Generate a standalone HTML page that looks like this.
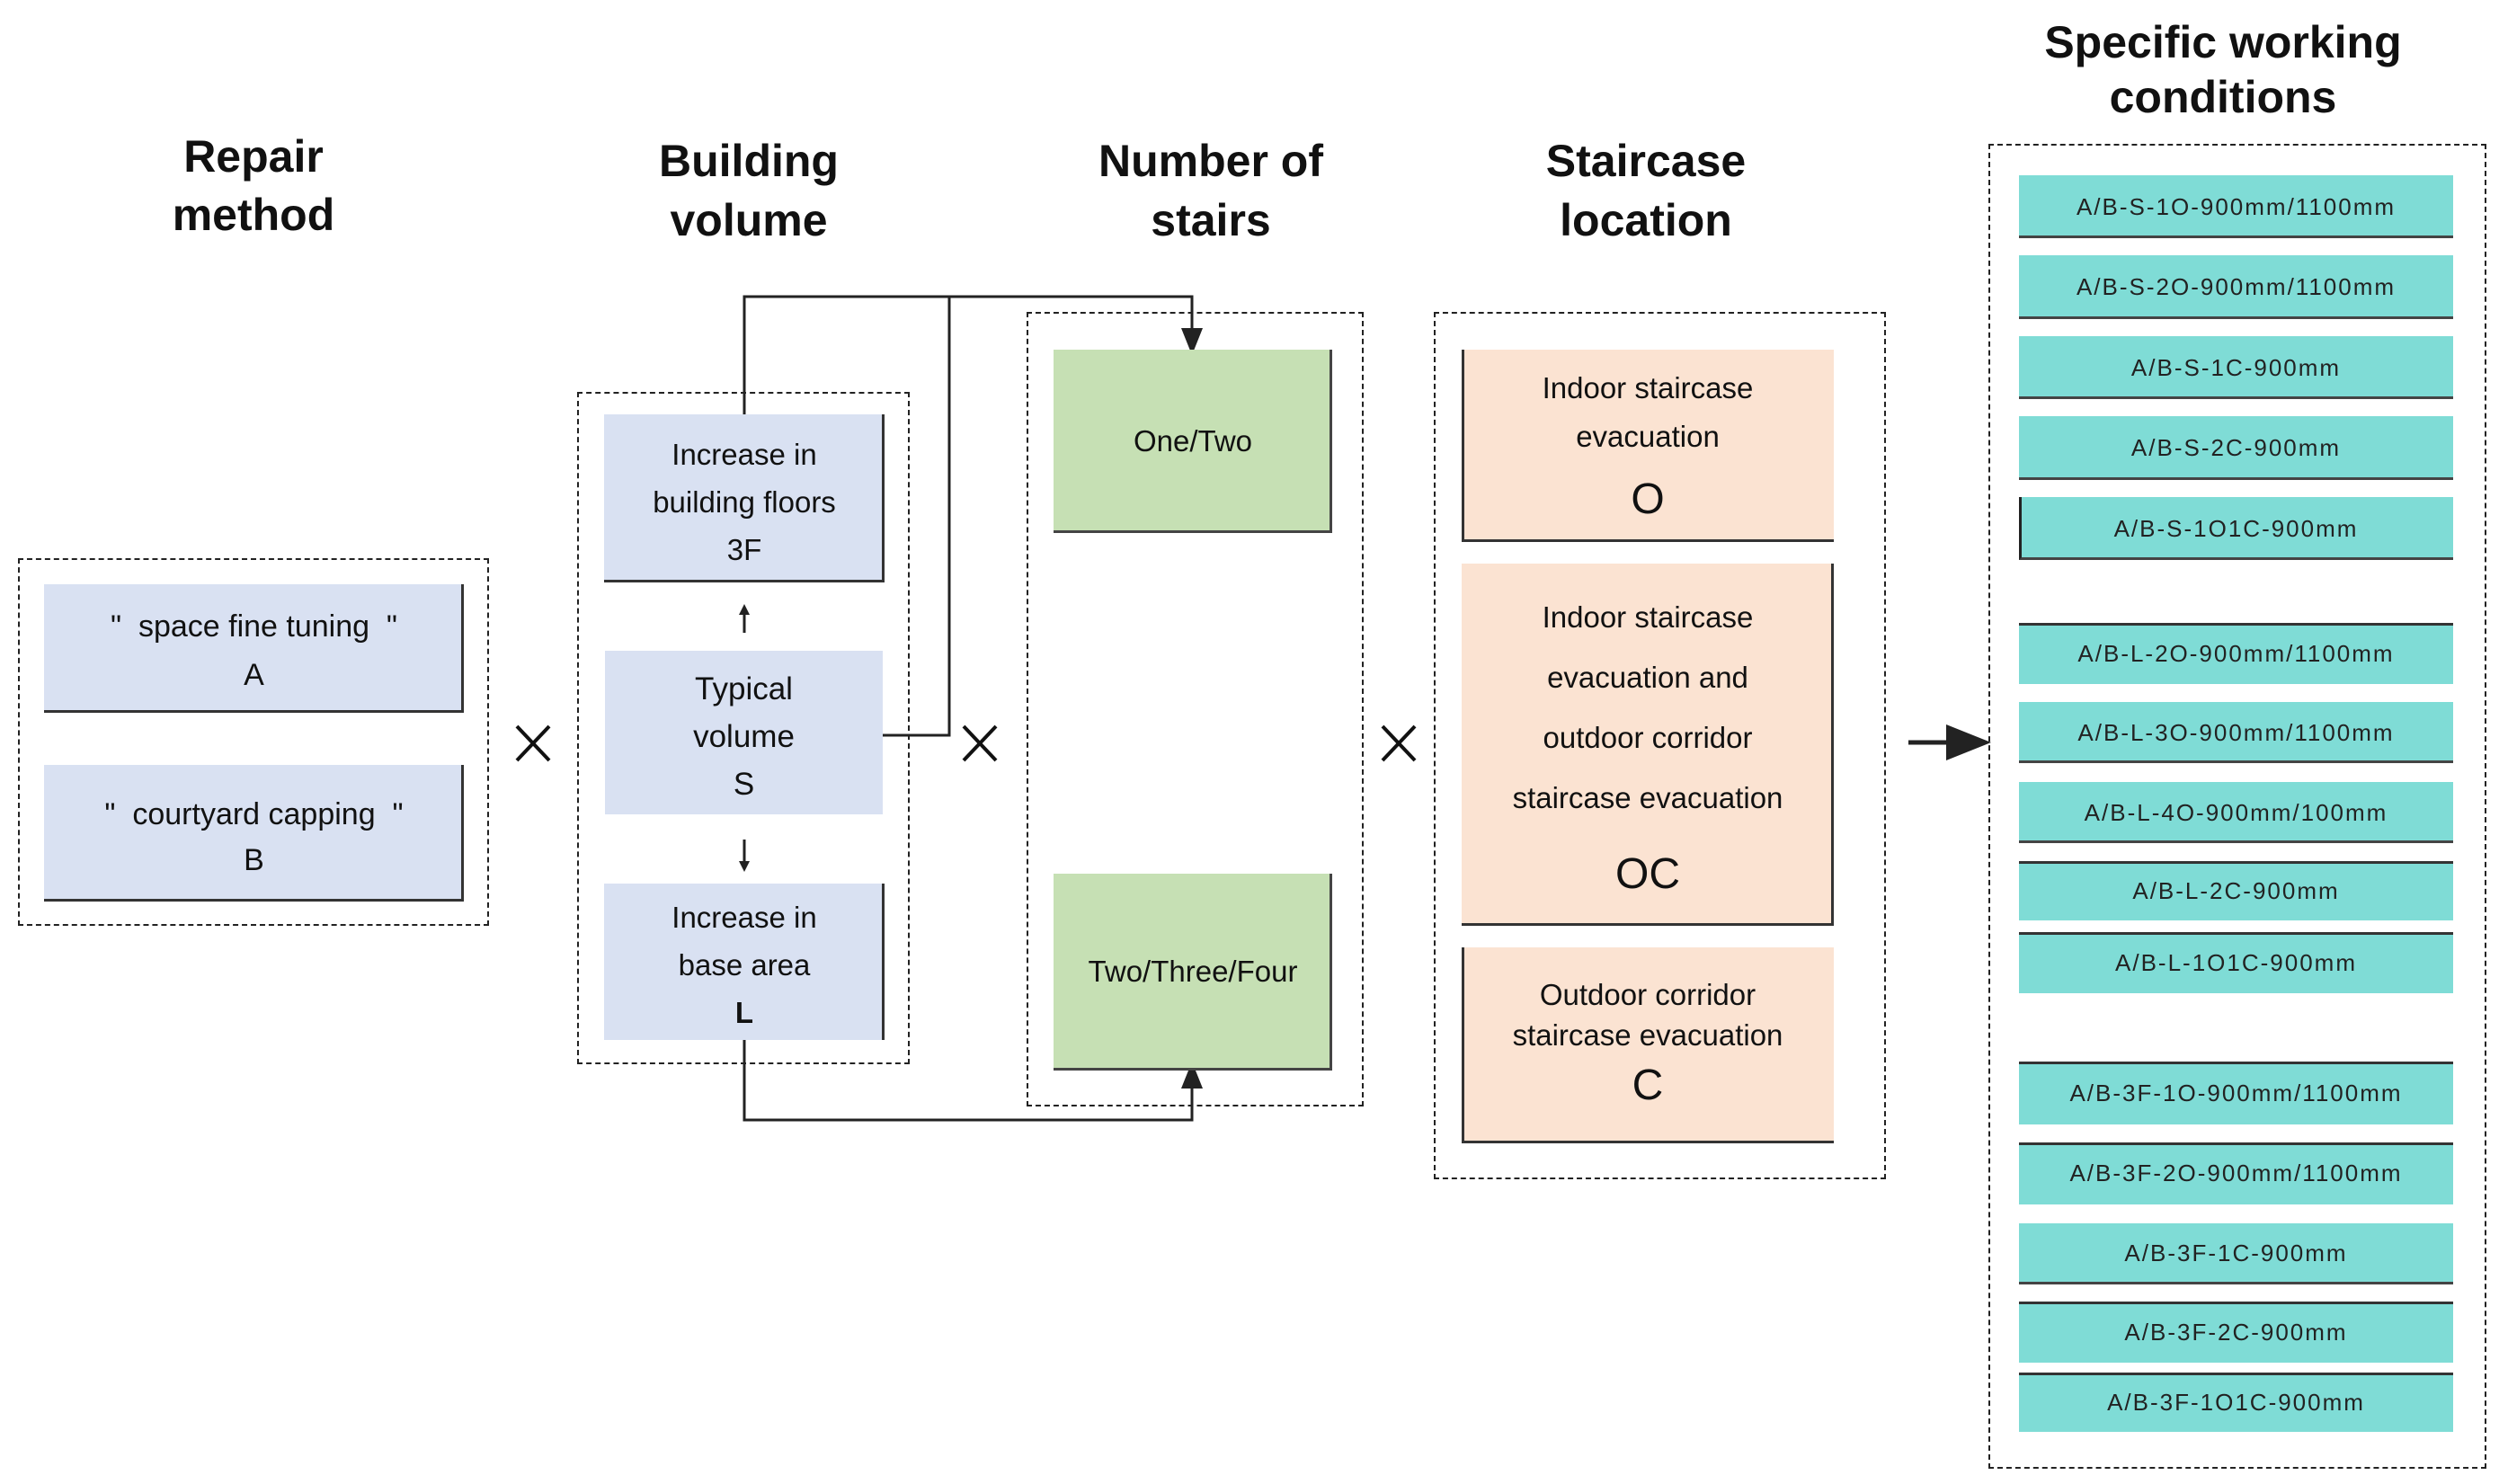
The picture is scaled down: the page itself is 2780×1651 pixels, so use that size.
<!DOCTYPE html>
<html><head><meta charset="utf-8"><style>
body{margin:0;background:#fff;}
#c{position:relative;width:2780px;height:1651px;overflow:hidden;font-family:"Liberation Sans",Arial,sans-serif;color:#111;}
.b{position:absolute;box-sizing:border-box;}
.t{position:absolute;text-align:center;white-space:nowrap;}
.dash{position:absolute;box-sizing:border-box;border:2px dashed #222;}
.blue{background:#d9e1f2;border-right:3px solid #333;border-bottom:3px solid #333;}
.green{background:#c6e0b4;border-right:3px solid #444;border-bottom:3px solid #444;}
.peach{background:#fbe3d2;border-left:3px solid #333;border-bottom:3px solid #333;}
.teal{background:#7fdcd6;border-bottom:3px solid #444;}
.ti{font-weight:bold;font-size:50px;line-height:60px;}
.tt{font-size:26px;line-height:32px;letter-spacing:2px;color:#222;}
</style></head><body><div id="c">
<!-- titles -->
<div class="t ti" style="left:82px;width:400px;top:144px">Repair</div>
<div class="t ti" style="left:82px;width:400px;top:209px">method</div>
<div class="t ti" style="left:633px;width:400px;top:149px">Building</div>
<div class="t ti" style="left:633px;width:400px;top:215px">volume</div>
<div class="t ti" style="left:1147px;width:400px;top:149px">Number of</div>
<div class="t ti" style="left:1147px;width:400px;top:215px">stairs</div>
<div class="t ti" style="left:1631px;width:400px;top:149px">Staircase</div>
<div class="t ti" style="left:1631px;width:400px;top:215px">location</div>
<div class="t ti" style="left:2223px;width:500px;top:17px">Specific working</div>
<div class="t ti" style="left:2223px;width:500px;top:78px">conditions</div>

<!-- lines -->
<svg class="b" style="left:0;top:0" width="2780" height="1651">
<defs><marker id="ar" markerWidth="10" markerHeight="10" refX="5" refY="5" orient="auto"><path d="M0,1 L10,5 L0,9 z" fill="#222"/></marker></defs>
<g stroke="#222" stroke-width="3" fill="none">
<polyline points="828,461 828,330 1326,330 1326,380" marker-end="url(#ar)"/>
<polyline points="982,818 1056,818 1056,330"/>
<polyline points="828,1157 828,1246 1326,1246 1326,1196" marker-end="url(#ar)"/>
<line x1="828" y1="704" x2="828" y2="680"/>
<line x1="828" y1="934" x2="828" y2="962"/>
<line x1="2123" y1="826" x2="2190" y2="826" stroke-width="5" marker-end="url(#ar)"/>
</g>
<g stroke="#111" stroke-width="4">
<line x1="575" y1="808" x2="611" y2="846"/><line x1="611" y1="808" x2="575" y2="846"/>
<line x1="1072" y1="808" x2="1108" y2="846"/><line x1="1108" y1="808" x2="1072" y2="846"/>
<line x1="1538" y1="808" x2="1574" y2="846"/><line x1="1574" y1="808" x2="1538" y2="846"/>
</g>
<path d="M822,684 L828,672 L834,684 z M822,958 L828,970 L834,958 z" fill="#222"/>
</svg>

<!-- repair -->
<div class="dash" style="left:20px;top:621px;width:524px;height:409px"></div>
<div class="b blue" style="left:49px;top:650px;width:467px;height:143px"></div>
<div class="t" style="left:49px;width:467px;top:677px;font-size:34px;line-height:40px">"&nbsp; space fine tuning &nbsp;"</div>
<div class="t" style="left:49px;width:467px;top:731px;font-size:34px;line-height:40px">A</div>
<div class="b blue" style="left:49px;top:851px;width:467px;height:152px"></div>
<div class="t" style="left:49px;width:467px;top:886px;font-size:34px;line-height:40px">"&nbsp; courtyard capping &nbsp;"</div>
<div class="t" style="left:49px;width:467px;top:937px;font-size:34px;line-height:40px">B</div>

<!-- building volume -->
<div class="dash" style="left:642px;top:436px;width:370px;height:748px"></div>
<div class="b blue" style="left:672px;top:461px;width:312px;height:187px"></div>
<div class="t" style="left:672px;width:312px;top:486px;font-size:33px;line-height:40px">Increase in</div>
<div class="t" style="left:672px;width:312px;top:539px;font-size:33px;line-height:40px">building floors</div>
<div class="t" style="left:672px;width:312px;top:592px;font-size:33px;line-height:40px">3F</div>
<div class="b blue" style="left:673px;top:724px;width:309px;height:182px;border:none"></div>
<div class="t" style="left:673px;width:309px;top:747px;font-size:35px;line-height:40px">Typical</div>
<div class="t" style="left:673px;width:309px;top:800px;font-size:35px;line-height:40px">volume</div>
<div class="t" style="left:673px;width:309px;top:853px;font-size:35px;line-height:40px">S</div>
<div class="b blue" style="left:672px;top:983px;width:312px;height:174px;border-bottom:none"></div>
<div class="t" style="left:672px;width:312px;top:1001px;font-size:33px;line-height:40px">Increase in</div>
<div class="t" style="left:672px;width:312px;top:1054px;font-size:33px;line-height:40px">base area</div>
<div class="t" style="left:672px;width:312px;top:1107px;font-size:33px;line-height:40px;font-weight:bold">L</div>

<!-- stairs -->
<div class="dash" style="left:1142px;top:347px;width:375px;height:884px"></div>
<div class="b green" style="left:1172px;top:389px;width:310px;height:204px"></div>
<div class="t" style="left:1172px;width:310px;top:471px;font-size:33px;line-height:40px">One/Two</div>
<div class="b green" style="left:1172px;top:972px;width:310px;height:219px"></div>
<div class="t" style="left:1172px;width:310px;top:1061px;font-size:33px;line-height:40px">Two/Three/Four</div>

<!-- staircase location -->
<div class="dash" style="left:1595px;top:347px;width:503px;height:965px"></div>
<div class="b peach" style="left:1626px;top:389px;width:414px;height:214px"></div>
<div class="t" style="left:1626px;width:414px;top:412px;font-size:33px;line-height:40px">Indoor staircase</div>
<div class="t" style="left:1626px;width:414px;top:466px;font-size:33px;line-height:40px">evacuation</div>
<div class="t" style="left:1626px;width:414px;top:530px;font-size:48px;line-height:52px">O</div>
<div class="b peach" style="left:1626px;top:627px;width:414px;height:403px;border-left:none;border-right:3px solid #333"></div>
<div class="t" style="left:1626px;width:414px;top:667px;font-size:33px;line-height:40px">Indoor staircase</div>
<div class="t" style="left:1626px;width:414px;top:734px;font-size:33px;line-height:40px">evacuation and</div>
<div class="t" style="left:1626px;width:414px;top:801px;font-size:33px;line-height:40px">outdoor corridor</div>
<div class="t" style="left:1626px;width:414px;top:868px;font-size:33px;line-height:40px">staircase evacuation</div>
<div class="t" style="left:1626px;width:414px;top:947px;font-size:48px;line-height:52px">OC</div>
<div class="b peach" style="left:1626px;top:1054px;width:414px;height:218px"></div>
<div class="t" style="left:1626px;width:414px;top:1087px;font-size:33px;line-height:40px">Outdoor corridor</div>
<div class="t" style="left:1626px;width:414px;top:1132px;font-size:33px;line-height:40px">staircase evacuation</div>
<div class="t" style="left:1626px;width:414px;top:1182px;font-size:48px;line-height:52px">C</div>

<!-- conditions -->
<div class="dash" style="left:2212px;top:160px;width:554px;height:1474px"></div>
<div class="b teal" style="left:2246px;top:195px;width:483px;height:70px"></div><div class="t tt" style="left:2246px;width:483px;top:214px">A/B-S-1O-900mm/1100mm</div>
<div class="b teal" style="left:2246px;top:284px;width:483px;height:71px"></div><div class="t tt" style="left:2246px;width:483px;top:303px">A/B-S-2O-900mm/1100mm</div>
<div class="b teal" style="left:2246px;top:374px;width:483px;height:70px"></div><div class="t tt" style="left:2246px;width:483px;top:393px">A/B-S-1C-900mm</div>
<div class="b teal" style="left:2246px;top:463px;width:483px;height:71px"></div><div class="t tt" style="left:2246px;width:483px;top:482px">A/B-S-2C-900mm</div>
<div class="b teal" style="left:2246px;top:553px;width:483px;height:70px;border-left:3px solid #222"></div><div class="t tt" style="left:2246px;width:483px;top:572px">A/B-S-1O1C-900mm</div>
<div class="b teal" style="left:2246px;top:693px;width:483px;height:68px;border-top:3px solid #333;border-bottom:none"></div><div class="t tt" style="left:2246px;width:483px;top:711px">A/B-L-2O-900mm/1100mm</div>
<div class="b teal" style="left:2246px;top:781px;width:483px;height:68px"></div><div class="t tt" style="left:2246px;width:483px;top:799px">A/B-L-3O-900mm/1100mm</div>
<div class="b teal" style="left:2246px;top:870px;width:483px;height:68px"></div><div class="t tt" style="left:2246px;width:483px;top:888px">A/B-L-4O-900mm/100mm</div>
<div class="b teal" style="left:2246px;top:958px;width:483px;height:66px;border-top:3px solid #333;border-bottom:none"></div><div class="t tt" style="left:2246px;width:483px;top:975px">A/B-L-2C-900mm</div>
<div class="b teal" style="left:2246px;top:1037px;width:483px;height:68px;border-top:3px solid #333;border-bottom:none"></div><div class="t tt" style="left:2246px;width:483px;top:1055px">A/B-L-1O1C-900mm</div>
<div class="b teal" style="left:2246px;top:1181px;width:483px;height:70px;border-top:3px solid #333;border-bottom:none"></div><div class="t tt" style="left:2246px;width:483px;top:1200px">A/B-3F-1O-900mm/1100mm</div>
<div class="b teal" style="left:2246px;top:1271px;width:483px;height:69px;border-top:3px solid #333;border-bottom:none"></div><div class="t tt" style="left:2246px;width:483px;top:1289px">A/B-3F-2O-900mm/1100mm</div>
<div class="b teal" style="left:2246px;top:1361px;width:483px;height:68px"></div><div class="t tt" style="left:2246px;width:483px;top:1378px">A/B-3F-1C-900mm</div>
<div class="b teal" style="left:2246px;top:1448px;width:483px;height:68px;border-top:3px solid #333;border-bottom:none"></div><div class="t tt" style="left:2246px;width:483px;top:1466px">A/B-3F-2C-900mm</div>
<div class="b teal" style="left:2246px;top:1527px;width:483px;height:66px;border-top:3px solid #333;border-bottom:none"></div><div class="t tt" style="left:2246px;width:483px;top:1544px">A/B-3F-1O1C-900mm</div>
</div></body></html>
